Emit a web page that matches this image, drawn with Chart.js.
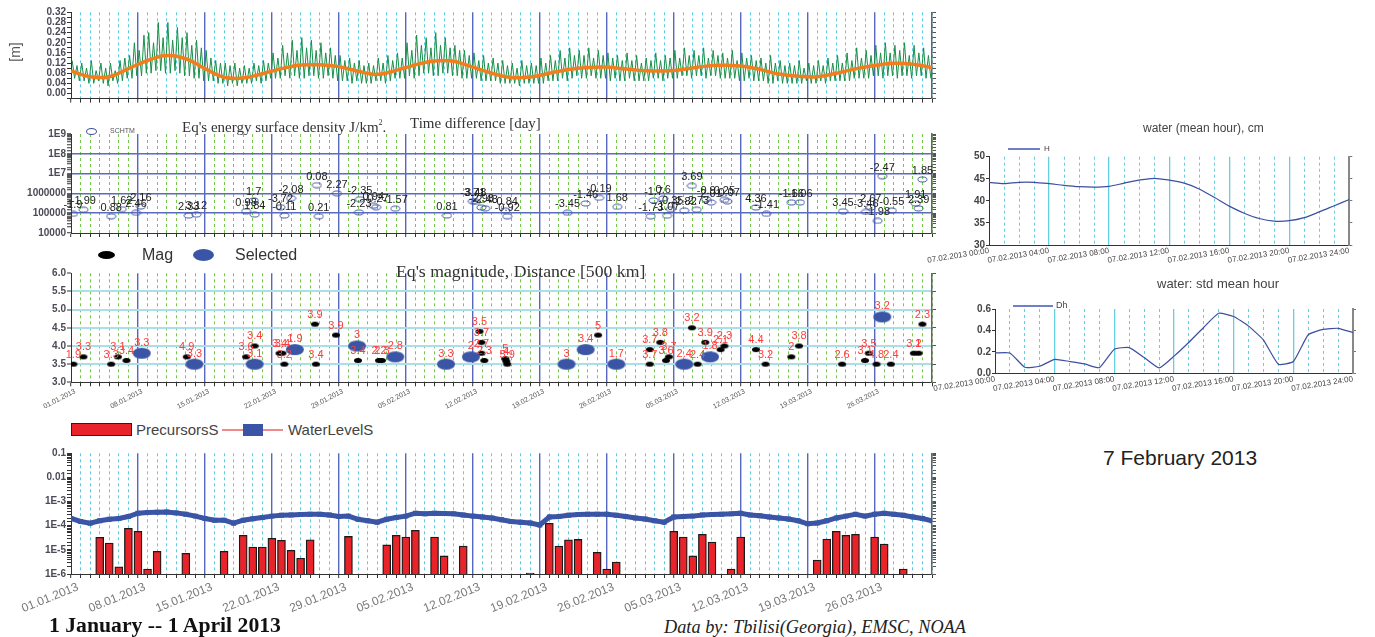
<!DOCTYPE html>
<html><head><meta charset="utf-8"><title>Water level, earthquakes and precursors, 2013</title>
<script src="https://cdn.jsdelivr.net/npm/chart.js@4.4.1/dist/chart.umd.min.js"></script>
<style>
html,body{margin:0;padding:0;background:#fff}
body{width:1375px;height:637px;position:relative;overflow:hidden;font-family:Arial,"Liberation Sans",sans-serif}
canvas{position:absolute}
.tx{position:absolute;white-space:nowrap}
.serif{font-family:"Times New Roman","Liberation Serif",serif}
.ell{position:absolute;border-radius:50%}
</style></head><body>
<canvas id="cLevel" width="940" height="110" style="left:0;top:0"></canvas>
<canvas id="cEnergy" width="940" height="128" style="left:0;top:112px"></canvas>
<canvas id="cMag" width="940" height="150" style="left:0;top:262px"></canvas>
<canvas id="cPrec" width="940" height="170" style="left:0;top:445px"></canvas>
<canvas id="cHour" width="450" height="130" style="left:925px;top:145px"></canvas>
<canvas id="cStd" width="450" height="110" style="left:925px;top:295px"></canvas>

<!-- axis title of the level panel -->
<div class="tx" style="left:0;top:44px;width:30px;height:16px;line-height:16px;text-align:center;font-size:14px;color:#555;transform:rotate(-90deg)">[m]</div>

<!-- energy panel -->
<div class="tx serif" style="left:182px;top:114px;font-size:15px;line-height:18px;color:#333">Eq's energy surface density J/km<span style="font-size:8px;vertical-align:7px">2</span>.</div>
<div class="tx serif" style="left:410px;top:114px;font-size:15px;line-height:18px;color:#333">Time difference [day]</div>
<div class="ell" style="left:86px;top:128px;width:9px;height:5px;border:1px solid #3c50a0"></div>
<div class="tx" style="left:110px;top:126px;font-size:7px;line-height:10px;color:#555">SCHTM</div>

<!-- magnitude panel -->
<div class="ell" style="left:98px;top:251px;width:17px;height:8px;background:#000"></div>
<div class="tx" style="left:142px;top:246px;font-size:16px;line-height:18px;color:#333">Mag</div>
<div class="ell" style="left:193px;top:249px;width:21px;height:12px;background:#3a55a5"></div>
<div class="tx" style="left:235px;top:246px;font-size:16px;line-height:18px;color:#333">Selected</div>
<div class="tx serif" style="left:396px;top:261px;font-size:17.7px;line-height:20px;color:#333">Eq's magnitude, Distance [500 km]</div>

<!-- precursor panel legend -->
<div style="position:absolute;left:71px;top:423px;width:59px;height:11px;background:#e8232a;border:1px solid #222"></div>
<div class="tx" style="left:136px;top:421px;font-size:15px;line-height:18px;color:#444">PrecursorsS</div>
<div style="position:absolute;left:222px;top:429px;width:61px;height:2px;background:#f08a8a"></div>
<div style="position:absolute;left:243px;top:424px;width:20px;height:12px;background:#3a55a5"></div>
<div class="tx" style="left:288px;top:421px;font-size:15px;line-height:18px;color:#444">WaterLevelS</div>

<!-- hourly panels -->
<div class="tx" style="left:1143px;top:121px;font-size:12px;line-height:14px;color:#444">water (mean hour), cm</div>
<div style="position:absolute;left:1008px;top:148px;width:32px;height:1.5px;background:#7080c8"></div>
<div class="tx" style="left:1044px;top:144px;font-size:8px;line-height:10px;color:#444">H</div>
<div class="tx" style="left:1157px;top:276px;font-size:13px;line-height:16px;color:#444">water: std mean hour</div>
<div style="position:absolute;left:1013px;top:305px;width:40px;height:1.5px;background:#7080c8"></div>
<div class="tx" style="left:1056px;top:300px;font-size:9px;line-height:11px;color:#444">Dh</div>
<div class="tx" style="left:1103px;top:446px;font-size:21px;line-height:24px;color:#222">7 February 2013</div>

<div class="tx serif" style="left:49px;top:611px;font-size:21.7px;line-height:28px;font-weight:bold;color:#111">1 January -- 1 April 2013</div>
<div class="tx serif" style="left:664px;top:615px;font-size:18.3px;line-height:24px;font-style:italic;color:#222">Data by: Tbilisi(Georgia), EMSC, NOAA</div>

<script>
// ---- tick labels ----
const weekLabels = ['01.01.2013','08.01.2013','15.01.2013','22.01.2013','29.01.2013','05.02.2013','12.02.2013',
  '19.02.2013','26.02.2013','05.03.2013','12.03.2013','19.03.2013','26.03.2013'];
const levelTicks = ['0.00','0.04','0.08','0.12','0.16','0.20','0.24','0.28','0.32'];
const energyTicks = ['10000','100000','1000000','1E7','1E8','1E9'];
const magTicks = ['3.0','3.5','4.0','4.5','5.0','5.5','6.0'];
const precTicks = ['1E-6','1E-5','1E-4','1E-3','0.01','0.1'];
const hourLabels = ['07.02.2013 00:00','07.02.2013 04:00','07.02.2013 08:00','07.02.2013 12:00',
  '07.02.2013 16:00','07.02.2013 20:00','07.02.2013 24:00'];
const hourTicks = ['30','35','40','45','50'];
const stdTicks = ['0.0','0.2','0.4','0.6'];

// ---- water level [m]: half-day high and low tide readings, days 0..89 ----
const tideHigh = [
  0.13,0.11,0.12,0.10,0.13,0.09,0.12,0.10,0.12,0.09,0.13,0.14,0.15,0.20,0.17,0.23,0.24,0.20,0.28,0.22,
  0.28,0.21,0.26,0.22,0.24,0.19,0.21,0.18,0.17,0.14,0.13,0.12,0.12,0.11,0.12,0.10,0.11,0.10,0.12,0.11,
  0.13,0.12,0.16,0.14,0.19,0.16,0.21,0.17,0.22,0.18,0.21,0.17,0.20,0.16,0.18,0.15,0.15,0.13,0.14,0.12,
  0.13,0.11,0.12,0.11,0.14,0.12,0.15,0.13,0.16,0.14,0.20,0.17,0.23,0.19,0.22,0.18,0.24,0.19,0.22,0.18,
  0.19,0.17,0.17,0.15,0.16,0.13,0.15,0.12,0.14,0.12,0.13,0.11,0.12,0.10,0.13,0.11,0.12,0.11,0.14,0.12,
  0.15,0.13,0.17,0.14,0.18,0.15,0.17,0.15,0.18,0.14,0.17,0.15,0.16,0.14,0.15,0.13,0.16,0.13,0.15,0.12,
  0.14,0.13,0.16,0.13,0.15,0.14,0.17,0.14,0.18,0.15,0.17,0.15,0.18,0.14,0.17,0.15,0.16,0.14,0.17,0.13,
  0.16,0.14,0.15,0.13,0.14,0.12,0.15,0.12,0.13,0.11,0.12,0.11,0.13,0.10,0.12,0.11,0.13,0.11,0.14,0.12,
  0.15,0.12,0.16,0.13,0.18,0.14,0.17,0.15,0.19,0.16,0.20,0.16,0.19,0.17,0.20,0.15,0.19,0.16,0.18,0.15];
const tideLow = [
  0.06,0.05,0.05,0.04,0.04,0.05,0.04,0.03,0.05,0.04,0.05,0.06,0.06,0.07,0.07,0.08,0.08,0.09,0.09,0.08,
  0.08,0.09,0.08,0.07,0.07,0.06,0.06,0.05,0.05,0.05,0.04,0.04,0.03,0.04,0.03,0.04,0.04,0.04,0.05,0.04,
  0.05,0.06,0.06,0.06,0.07,0.06,0.07,0.06,0.06,0.07,0.07,0.06,0.06,0.07,0.06,0.05,0.05,0.05,0.04,0.05,
  0.04,0.04,0.04,0.05,0.05,0.04,0.05,0.06,0.06,0.06,0.07,0.06,0.07,0.08,0.08,0.07,0.07,0.08,0.08,0.07,
  0.07,0.06,0.06,0.06,0.06,0.05,0.05,0.05,0.05,0.04,0.04,0.04,0.04,0.03,0.04,0.04,0.04,0.04,0.04,0.05,
  0.05,0.05,0.06,0.05,0.06,0.07,0.06,0.06,0.07,0.06,0.06,0.06,0.05,0.06,0.05,0.05,0.06,0.05,0.05,0.05,
  0.05,0.06,0.06,0.05,0.06,0.06,0.06,0.07,0.07,0.06,0.07,0.07,0.06,0.07,0.07,0.06,0.06,0.06,0.06,0.05,
  0.05,0.06,0.05,0.05,0.05,0.04,0.04,0.05,0.04,0.04,0.04,0.04,0.04,0.05,0.04,0.04,0.05,0.04,0.05,0.05,
  0.05,0.05,0.05,0.06,0.06,0.06,0.06,0.07,0.07,0.06,0.07,0.07,0.06,0.07,0.07,0.06,0.07,0.07,0.06,0.06];
// smoothed mean level, one value every second day (day 0..90)
const meanLevel = [
  0.089,0.066,0.066,0.098,0.130,0.150,0.137,0.098,0.064,0.061,
  0.078,0.098,0.112,0.113,0.106,0.088,0.075,0.091,0.113,0.128,
  0.127,0.104,0.080,0.063,0.065,0.080,0.095,0.103,0.104,0.097,
  0.090,0.089,0.095,0.106,0.111,0.108,0.095,0.077,0.068,0.066,
  0.080,0.097,0.110,0.119,0.115,0.102];

// ---- earthquake energy surface density (J/km2) and time difference (day) ----
const eqDay = [0.2,1.3,4.2,5.3,6.8,7.3,12.3,13.1,18.3,19.2,19.1,21.9,22.3,23.0,25.7,25.9,27.8,30.2,30.1,31.6,31.9,33.9,39.3,
  42.0,42.3,42.9,43.3,45.4,45.6,51.9,53.8,55.2,57.1,60.6,60.9,61.9,62.3,62.7,64.1,64.9,65.4,66.4,66.9,68.3,68.6,
  71.6,72.7,75.3,76.2,80.7,83.1,83.6,84.3,84.8,85.8,88.3,88.6,89.0];
const eqEnergy = [9.3e4,1.5e5,7e4,1.6e5,1.05e5,2.2e5,7.6e4,8.5e4,1.25e5,8.5e4,4.4e5,2e5,7.6e4,5.7e5,2.6e6,7e4,1e6,5.1e5,1.1e5,2.4e5,2e5,1.7e5,7.6e4,
  4e5,3.7e5,1.95e5,1.75e5,1.35e5,7e4,1.05e5,3.1e5,6e5,2.1e5,7e4,4.4e5,5.5e5,7.5e4,1.6e5,1.35e5,2.4e6,1.5e5,5e5,3.5e5,4.7e5,4e5,
  1.95e5,9.3e4,3.5e5,3.5e5,1.25e5,1.15e5,1.95e5,4.1e4,7.4e6,1.35e5,3.1e5,1.75e5,5.1e6];
const eqDiff = ['-1.9','-1.99','0.88','1.62','2.46','2.16','2.33','3.12','0.98','1.84','1.7','-3.72','-0.11','-2.08','0.08','0.21','2.27','-2.35','-2.23','0.94','-0.27','-1.57','0.81',
  '-3.71','3.48','-2.98','-2.48','-0.84','-0.92','-3.45','-1.46','-0.19','1.68','-1.73','-1.7','0.6','-1.07','-0.35','-2.82','3.69','-2.73','-0.9','2.01','0.25','-0.07',
  '4.36','-1.41','-1.66','-1.06','3.45','-3.46','2.67','-1.98','-2.47','-0.55','1.91','2.39','1.85'];

// ---- magnitudes with distance labels (x500 km) ----
const magDay = [0.25,1.3,4.2,4.9,5.8,12.1,18.3,19.2,21.8,22.1,22.3,25.5,25.6,27.7,30.0,32.2,32.5,42.7,42.9,42.9,43.2,45.4,45.5,45.6,
  55.1,60.5,60.5,61.6,62.2,62.5,64.9,65.5,66.3,67.9,68.3,71.6,72.6,75.3,76.1,80.6,83.0,83.4,84.2,85.7,88.1,88.6,89.0];
const magVal = [3.5,3.7,3.5,3.7,3.6,3.7,3.7,4.0,3.8,3.8,3.5,4.6,3.5,4.3,3.6,3.6,3.6,4.4,4.1,3.8,3.6,3.65,3.58,3.5,
  4.3,3.9,3.5,4.1,3.6,3.7,4.5,3.5,4.1,3.9,4.0,3.9,3.5,3.7,4.0,3.5,3.6,3.8,3.5,3.5,3.8,3.8,4.6];
const magDist = ['1.9','3.3','3.3','3.1','3.4','4.9','3.6','3.4','3.4','3.4','3.2','3.9','3.4','3.9','3.4','2.2','2.3','3.5','3.7','2.7','2.3','5','4','5.9',
  '5','3.7','3.7','3.8','3.6','3.7','3.2','2.4','3.9','2.1','2.3','4.4','3.2','2','3.8','2.6','3.1','3.5','4.8','2.4','3.1','2','2.3'];
const selDay = [7.4,12.9,19.2,23.4,29.9,33.9,39.2,41.8,51.8,53.8,57.0,64.1,66.8,84.8];
const selVal = [3.8,3.5,3.5,3.9,4.0,3.7,3.5,3.7,3.5,3.9,3.5,3.5,3.7,4.8];
const selDist = ['3.3','3.3','3.1','1.9','3','2.8','3.3','2','3','3.4','1.7','2.4','1.8','3.2'];

// ---- precursors and water level signal ----
const precDay = [3,4,5,6,7,8,9,12,16,18,19,20,21,22,23,24,25,29,33,34,35,36,38,39,41,48,50,51,52,53,55,56,57,
  63,64,65,66,67,69,70,78,79,80,81,82,84,85,87];
const precVal = [3.3e-5,1.9e-5,2e-6,7.8e-5,5.9e-5,1.6e-6,8.7e-6,7.2e-6,8.7e-6,4e-5,1.3e-5,1.3e-5,3e-5,2.5e-5,9.5e-6,4.5e-6,2.6e-5,
  3.6e-5,1.6e-5,4e-5,3.4e-5,6.4e-5,3.4e-5,5.6e-6,1.45e-5,1.1e-6,1.26e-4,1.45e-5,2.6e-5,2.7e-5,7.9e-6,1.6e-6,3.1e-6,
  5.9e-5,3.4e-5,5.6e-6,4.4e-5,2.1e-5,1.6e-6,3.4e-5,3.8e-6,2.8e-5,5.9e-5,4e-5,4.4e-5,3.4e-5,1.75e-5,1.6e-6];
const waterSignal = [
  2.0e-4,1.5e-4,1.27e-4,1.6e-4,1.85e-4,2.0e-4,2.4e-4,3.3e-4,3.5e-4,3.6e-4,
  3.7e-4,3.4e-4,3.0e-4,2.5e-4,2.0e-4,1.7e-4,1.7e-4,1.27e-4,1.7e-4,1.95e-4,
  2.2e-4,2.5e-4,2.7e-4,2.8e-4,2.9e-4,3.0e-4,3.0e-4,2.8e-4,2.4e-4,2.5e-4,
  1.85e-4,1.6e-4,1.4e-4,1.85e-4,2.2e-4,2.5e-4,3.3e-4,3.1e-4,3.3e-4,3.2e-4,
  3.1e-4,2.8e-4,2.5e-4,2.3e-4,2.1e-4,1.77e-4,1.5e-4,1.4e-4,1.3e-4,1.07e-4,
  2.3e-4,2.4e-4,2.7e-4,2.9e-4,3.0e-4,3.0e-4,3.0e-4,2.7e-4,2.4e-4,2.1e-4,
  1.9e-4,1.6e-4,1.4e-4,2.3e-4,2.4e-4,2.5e-4,2.8e-4,2.9e-4,3.0e-4,3.1e-4,
  3.3e-4,2.8e-4,2.6e-4,2.3e-4,2.1e-4,1.9e-4,1.6e-4,1.2e-4,1.3e-4,1.6e-4,
  2.1e-4,2.5e-4,3.0e-4,2.5e-4,3.0e-4,3.3e-4,3.0e-4,2.7e-4,2.3e-4,2.0e-4,1.6e-4];

// ---- 7 February 2013, hourly ----
const hourH = [44.2,43.9,44.2,44.2,43.9,43.5,43.2,43.1,43.3,44.0,44.7,45.1,44.7,44.0,42.7,40.8,38.8,37.2,36.0,35.4,35.5,36.2,37.5,38.9,40.3];
const hourDh = [0.19,0.19,0.056,0.066,0.13,0.11,0.088,0.053,0.225,0.24,0.147,0.05,0.16,0.29,0.43,0.56,0.53,0.44,0.31,0.084,0.11,0.36,0.41,0.42,0.38];

// ---- styling ----
const FONT = 'Arial, "Liberation Sans", sans-serif';
Chart.defaults.font.family = FONT;
const WEEK_LINE = '#5668bd';
const GREEN_DASH = '#74c94a';
const CYAN_DASH = '#5fcbe0';
const TICK_TEXT = '#4a4a58';
const BOLD10 = { size: 10, weight: 'bold' };

function ellipseMark(w, h, fill, stroke) {
  const c = document.createElement('canvas');
  c.width = w; c.height = h;
  const g = c.getContext('2d');
  g.beginPath();
  g.ellipse(w / 2, h / 2, w / 2 - 1, h / 2 - 1, 0, 0, Math.PI * 2);
  if (fill) { g.fillStyle = fill; g.fill(); }
  if (stroke) { g.strokeStyle = stroke; g.lineWidth = 1; g.stroke(); }
  return c;
}
const openMark = ellipseMark(11, 7, null, '#3c50a0');
const blackMark = ellipseMark(10, 7, '#000', null);
const blueMark = ellipseMark(20, 13, '#3a55a5', null);

// draws the text label attached to every point of a dataset
const pointLabels = {
  id: 'pointLabels',
  afterDatasetsDraw(chart) {
    const ctx = chart.ctx;
    chart.data.datasets.forEach((ds, i) => {
      if (!ds.pointLabels) return;
      const meta = chart.getDatasetMeta(i);
      ctx.save();
      ctx.font = ds.labelFont;
      ctx.fillStyle = ds.labelColor;
      ctx.textAlign = 'center';
      ctx.textBaseline = 'bottom';
      meta.data.forEach((el, j) => ctx.fillText(ds.pointLabels[j], el.x, el.y - ds.labelDy));
      ctx.restore();
    });
  }
};

function dayAxis(o) {
  const isWeek = c => c.tick && Math.round(c.tick.value) % 7 === 0;
  return {
    type: 'linear', min: 0, max: 90, offset: false,
    ticks: {
      stepSize: 1, autoSkip: false, display: !!o.labels,
      minRotation: o.rot || 0, maxRotation: o.rot || 0,
      padding: o.pad || 0, labelOffset: o.lo || 0,
      color: o.fc || '#666', font: { size: o.fs || 8 },
      callback: v => { const d = Math.round(v); return (d % 7 === 0 && d / 7 < weekLabels.length) ? weekLabels[d / 7] : ''; }
    },
    grid: {
      offset: false, drawTicks: true, tickLength: 4, tickWidth: 1, tickColor: '#333',
      color: c => { if (!c.tick) return 'transparent'; const d = Math.round(c.tick.value); return d === 0 ? 'transparent' : (d % 7 === 0 ? WEEK_LINE : o.daily); },
      lineWidth: c => isWeek(c) ? 1.4 : 1
    },
    border: { color: '#333', width: 1, dash: c => (c.tick && !isWeek(c)) ? [3, 3] : [] },
    afterFit: s => { s.height = o.h; s.paddingLeft = 0; s.paddingRight = 0; }
  };
}

function sideAxis(base, width) {
  return Object.assign({}, base, {
    position: 'right',
    ticks: Object.assign({}, base.ticks || {}, { display: false }),
    grid: { drawOnChartArea: false, tickLength: 4, tickWidth: 1, tickColor: '#555' },
    border: { color: '#666', width: 1.5 },
    afterFit: s => { s.width = width; }
  });
}

const logIndex = v => { const e = Math.log10(v), r = Math.round(e); return Math.abs(e - r) < 1e-6 ? r : null; };

const common = {
  responsive: false, animation: false,
  plugins: { legend: { display: false }, tooltip: { enabled: false } }
};

// ---- panel 1: water level ----
const tideSeries = [];
tideHigh.forEach((h, k) => {
  tideSeries.push({ x: k * 0.5 + 0.125, y: h });
  tideSeries.push({ x: k * 0.5 + 0.375, y: tideLow[k] });
});
const meanSeries = meanLevel.map((v, i) => ({ x: i * 2, y: v }));
const levelY = {
  type: 'linear', position: 'left', min: -0.02, max: 0.32,
  ticks: { stepSize: 0.02, autoSkip: false, padding: 1, color: TICK_TEXT, font: BOLD10,
    callback: v => { const k = Math.round(v / 0.02); return (k >= 0 && k % 2 === 0) ? levelTicks[k / 2] : ''; } },
  grid: { drawOnChartArea: false, tickLength: 4, tickColor: '#333' },
  border: { color: '#333', width: 1 },
  afterFit: s => { s.width = 71; }
};
new Chart(document.getElementById('cLevel'), {
  type: 'line',
  data: { datasets: [
    { data: meanSeries, borderColor: '#f27d1c', borderWidth: 3.5, pointRadius: 0, tension: 0.4 },
    { data: tideSeries, borderColor: '#178f48', borderWidth: 1, pointRadius: 0, tension: 0 }
  ] },
  options: Object.assign({}, common, {
    layout: { padding: { top: 12.3, left: 0, right: 0, bottom: 0 } },
    scales: { x: dayAxis({ h: 11.4, labels: false, daily: CYAN_DASH }), y: levelY, yr: sideAxis(levelY, 8) }
  })
});

// ---- panel 2: energy surface density ----
const energyY = {
  type: 'logarithmic', position: 'left', min: 1e4, max: 1e9,
  ticks: { autoSkip: false, padding: 1, color: TICK_TEXT, font: BOLD10,
    callback: v => { const r = logIndex(v); return r === null ? '' : energyTicks[r - 4]; } },
  grid: { drawOnChartArea: true, tickLength: 4, tickWidth: 1, tickColor: '#333', lineWidth: 1.5,
    color: c => { if (!c.tick) return 'transparent'; const r = logIndex(c.tick.value); return (r !== null && r > 4 && r < 9) ? '#5a6cc0' : 'transparent'; } },
  border: { color: '#333', width: 1 },
  afterFit: s => { s.width = 71; }
};
new Chart(document.getElementById('cEnergy'), {
  type: 'scatter',
  data: { datasets: [
    { data: eqDay.map((d, i) => ({ x: d, y: eqEnergy[i] })), pointStyle: openMark, pointRadius: 4,
      pointLabels: eqDiff, labelFont: '11px ' + FONT, labelColor: '#222', labelDy: 3 }
  ] },
  options: Object.assign({}, common, {
    layout: { padding: { top: 22, left: 0, right: 0, bottom: 0 } },
    scales: { x: dayAxis({ h: 7, labels: false, daily: GREEN_DASH }), y: energyY,
      yr: sideAxis({ type: 'logarithmic', min: 1e4, max: 1e9, ticks: { autoSkip: false } }, 8) }
  }),
  plugins: [pointLabels]
});

// ---- panel 3: magnitude ----
const magY = {
  type: 'linear', position: 'left', min: 3, max: 6,
  ticks: { stepSize: 0.5, autoSkip: false, padding: 1, color: TICK_TEXT, font: BOLD10,
    callback: v => magTicks[Math.round((v - 3) / 0.5)] },
  grid: { drawOnChartArea: true, tickLength: 4, tickWidth: 1, tickColor: '#333', lineWidth: 2,
    color: c => (c.tick && c.tick.value > 3.01 && c.tick.value < 5.99) ? '#a9dfe9' : 'transparent' },
  border: { color: '#333', width: 1 },
  afterFit: s => { s.width = 71; }
};
new Chart(document.getElementById('cMag'), {
  type: 'scatter',
  data: { datasets: [
    { data: selDay.map((d, i) => ({ x: d, y: selVal[i] })), pointStyle: blueMark, pointRadius: 6,
      pointLabels: selDist, labelFont: '11px ' + FONT, labelColor: '#ff3b3b', labelDy: 5 },
    { data: magDay.map((d, i) => ({ x: d, y: magVal[i] })), pointStyle: blackMark, pointRadius: 4,
      pointLabels: magDist, labelFont: '11px ' + FONT, labelColor: '#ff3b3b', labelDy: 4 }
  ] },
  options: Object.assign({}, common, {
    layout: { padding: { top: 11.3, left: 0, right: 0, bottom: 0 } },
    scales: { x: dayAxis({ h: 29.7, labels: true, fs: 7, rot: 27, fc: '#555', pad: 1, lo: 4, daily: GREEN_DASH }), y: magY,
      yr: sideAxis({ type: 'linear', min: 3, max: 6, ticks: { stepSize: 0.5 } }, 8) }
  }),
  plugins: [pointLabels]
});

// ---- panel 4: precursors and water level signal ----
const precY = {
  type: 'logarithmic', position: 'left', min: 1e-6, max: 0.1,
  ticks: { autoSkip: false, padding: 1, color: TICK_TEXT, font: BOLD10,
    callback: v => { const r = logIndex(v); return r === null ? '' : precTicks[r + 6]; } },
  grid: { drawOnChartArea: false, tickLength: 4, tickWidth: 1, tickColor: '#333' },
  border: { color: '#333', width: 1 },
  afterFit: s => { s.width = 71; }
};
new Chart(document.getElementById('cPrec'), {
  type: 'bar',
  data: { datasets: [
    { type: 'line', data: waterSignal.map((v, i) => ({ x: i, y: v })), borderColor: '#3a55a5', borderWidth: 5,
      pointStyle: 'rect', pointRadius: 3.5, pointBackgroundColor: '#3a55a5', pointBorderWidth: 0, tension: 0 },
    { type: 'bar', data: precDay.map((d, i) => ({ x: d, y: precVal[i] })), backgroundColor: '#e8232a',
      borderColor: '#1a1a1a', borderWidth: 1.3, barThickness: 8, borderSkipped: 'bottom' }
  ] },
  options: Object.assign({}, common, {
    layout: { padding: { top: 8.3, left: 0, right: 0, bottom: 0 } },
    scales: { x: dayAxis({ h: 41, labels: true, fs: 12, rot: 22, fc: '#7a7a7a', pad: 2, lo: 7, daily: CYAN_DASH }), y: precY,
      yr: sideAxis({ type: 'logarithmic', min: 1e-6, max: 0.1, ticks: { autoSkip: false } }, 8) }
  })
});

// ---- hourly panels ----
function hourAxis(h) {
  const isMain = c => c.tick && Math.round(c.tick.value) % 4 === 0;
  return {
    type: 'linear', min: 0, max: 24, offset: false,
    ticks: { stepSize: 1, autoSkip: false, minRotation: 9, maxRotation: 9, padding: 1, color: '#444', font: { size: 8 },
      callback: v => { const d = Math.round(v); return d % 4 === 0 ? hourLabels[d / 4] : ''; } },
    grid: { offset: false, tickLength: 0, tickColor: 'transparent',
      color: c => (c.tick && c.tick.value > 0 && c.tick.value < 24) ? '#66cfe2' : 'transparent',
      lineWidth: c => isMain(c) ? 1.3 : 1 },
    border: { color: '#333', width: 1, dash: c => (c.tick && !isMain(c)) ? [3, 3] : [] },
    afterFit: s => { s.height = h; s.paddingLeft = 0; s.paddingRight = 0; }
  };
}
function hourValueAxis(min, max, step, labels, width) {
  return {
    type: 'linear', position: 'left', min, max,
    ticks: { stepSize: step, autoSkip: false, padding: 1, color: '#444', font: BOLD10,
      callback: v => labels[Math.round((v - min) / step)] },
    grid: { drawOnChartArea: false, tickLength: 3, tickColor: '#333' },
    border: { color: '#333', width: 1 },
    afterFit: s => { s.width = width; }
  };
}
function hourSide(min, max, width) {
  return { type: 'linear', position: 'right', min, max, ticks: { display: false },
    grid: { drawOnChartArea: false, tickLength: 3, tickColor: '#777' },
    border: { color: '#888', width: 2 }, afterFit: s => { s.width = width; } };
}

new Chart(document.getElementById('cHour'), {
  type: 'line',
  data: { datasets: [
    { data: hourH.map((v, i) => ({ x: i, y: v })), borderColor: '#3c4fa0', borderWidth: 1.2, pointRadius: 0, tension: 0.3 }
  ] },
  options: Object.assign({}, common, {
    layout: { padding: { top: 11.7, left: 0, right: 0, bottom: 0 } },
    scales: { x: hourAxis(30), y: hourValueAxis(30, 50, 5, hourTicks, 64), yr: hourSide(30, 50, 25.7) }
  })
});

new Chart(document.getElementById('cStd'), {
  type: 'line',
  data: { datasets: [
    { data: hourDh.map((v, i) => ({ x: i, y: v })), borderColor: '#3c4fa0', borderWidth: 1.2, pointRadius: 0, tension: 0.15 }
  ] },
  options: Object.assign({}, common, {
    layout: { padding: { top: 14, left: 0, right: 0, bottom: 0 } },
    scales: { x: hourAxis(31.7), y: hourValueAxis(0, 0.6, 0.2, stdTicks, 70), yr: hourSide(0, 0.6, 22) }
  })
});
</script>
</body></html>
